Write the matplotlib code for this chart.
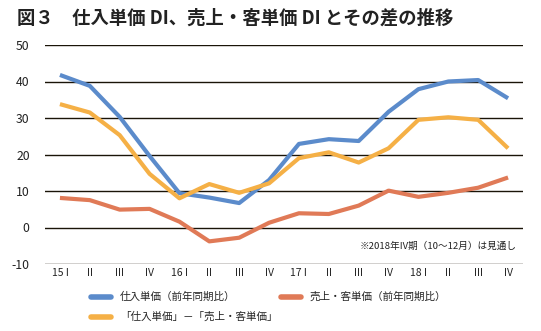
#!/usr/bin/env python3
"""Purchase unit price DI vs. sales / customer unit price DI and their gap."""
import os

os.environ.setdefault("MPLCONFIGDIR", "/tmp/matplotlib")
import matplotlib
matplotlib.use("Agg")
import matplotlib.pyplot as plt
from matplotlib.lines import Line2D

plt.rcParams["font.family"] = ["Noto Sans CJK JP", "DejaVu Sans"]

QUARTERS = ["15 I", "II", "III", "IV", "16 I", "II", "III", "IV",
            "17 I", "II", "III", "IV", "18 I", "II", "III", "IV"]
PURCHASE = [41.8, 38.8, 30.3, 19.6, 9.4, 8.2, 6.7, 13.0,
            22.9, 24.2, 23.7, 31.7, 37.9, 40.0, 40.4, 35.4]
SALES = [8.1, 7.5, 4.9, 5.1, 1.6, -3.8, -2.8, 1.3,
         3.9, 3.7, 6.0, 10.1, 8.4, 9.5, 10.9, 13.7]
GAP = [33.8, 31.5, 25.3, 14.7, 8.0, 11.9, 9.5, 12.1,
       19.0, 20.6, 17.8, 21.7, 29.5, 30.2, 29.5, 21.7]
Y_TICKS = [-10, 0, 10, 20, 30, 40, 50]

LABELS = ["仕入単価（前年同期比）", "売上・客単価（前年同期比）", "「仕入単価」－「売上・客単価」"]
COLORS = ["#5b8bcb", "#e07a57", "#f5b046"]

W, H = 541, 331


def fx(px):
    return px / W


def fy(py):
    return 1 - py / H


fig = plt.figure(figsize=(W / 100, H / 100), dpi=100)
ax = fig.add_axes([fx(45), fy(264), fx(523) - fx(45), fy(45) - fy(264)])

x = range(len(QUARTERS))
for values, color in zip([PURCHASE, SALES, GAP], COLORS):
    ax.plot(x, values, color=color, linewidth=3.0, solid_capstyle="butt", zorder=3)

for value in Y_TICKS:
    ax.axhline(value, color="#1a1408", linewidth=1.0, zorder=1)

ax.set_xlim(-0.5, len(QUARTERS) - 0.5)
ax.set_ylim(-10, 50)
ax.set_yticks(Y_TICKS)
ax.set_yticklabels([str(v) for v in Y_TICKS], fontsize=8.8, color="#222")
ax.set_xticks(list(x))
ax.set_xticklabels(QUARTERS, fontsize=7.5, color="#222")
ax.tick_params(axis="y", length=0, pad=11)
ax.tick_params(axis="x", length=0, pad=3)
for spine in ax.spines.values():
    spine.set_visible(False)

ax.text(15.3, -5, "※2018年IV期（10～12月）は見通し", fontsize=6.9, color="#222",
        ha="right", va="center")

fig.text(fx(17), fy(18), "図３　仕入単価 DI、売上・客単価 DI とその差の推移",
         fontsize=13.2, fontweight="bold", color="#222", va="center", ha="left")

# legend drawn by hand to match the staggered layout
legend_rows = [(91, 297, 0), (281, 297, 1), (91, 317, 2)]
for hx, hy, index in legend_rows:
    fig.add_artist(Line2D([fx(hx), fx(hx + 20)], [fy(hy), fy(hy)], color=COLORS[index],
                          linewidth=4, solid_capstyle="round", transform=fig.transFigure))
    fig.text(fx(hx + 29), fy(hy), LABELS[index], fontsize=7.6, color="#222",
             va="center", ha="left")

fig.savefig("out.png", dpi=100, facecolor="white")
plt.close(fig)
